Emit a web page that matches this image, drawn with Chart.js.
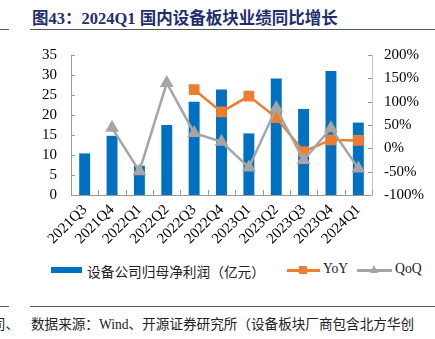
<!DOCTYPE html>
<html>
<head>
<meta charset="utf-8">
<script src="https://cdn.jsdelivr.net/npm/chart.js@4"></script>
<style>
  body { margin: 0; width: 435px; height: 339px; overflow: hidden; background: #fff; position: relative; }
  .abs { position: absolute; white-space: nowrap; }
  .title { left: 32px; top: 5px; font: bold 16.5px "Liberation Serif", "Noto Sans CJK SC", serif; color: #1f2e6e; }
  .rule { height: 1px; background: #555; }
  .note { font: 13.6px "Liberation Serif", "Noto Sans CJK SC", serif; color: #222; }
  .leg { font: 13.7px "Liberation Serif", "Noto Sans CJK SC", serif; color: #222; }
</style>
</head>
<body>
<div class="abs title">图43：2024Q1 国内设备板块业绩同比增长</div>
<div class="abs rule" style="left:0;top:29px;width:9px"></div>
<div class="abs rule" style="left:30px;top:29px;width:405px"></div>

<div class="abs" style="left:0;top:32px;width:435px;height:228px">
  <canvas id="chart" width="435" height="228"></canvas>
</div>

<!-- legend -->
<div class="abs" style="left:51px;top:267px;width:31px;height:6px;background:#0070C0"></div>
<div class="abs leg" style="left:87px;top:261px">设备公司归母净利润（亿元）</div>
<div class="abs" style="left:287px;top:269px;width:33px;height:2.5px;background:#ED7D31"></div>
<div class="abs" style="left:299px;top:266px;width:8px;height:8px;background:#ED7D31"></div>
<div class="abs leg" style="left:323px;top:261px">YoY</div>
<div class="abs" style="left:357px;top:269px;width:35px;height:2.5px;background:#A5A5A5"></div>
<div class="abs" style="left:370px;top:265px;width:0;height:0;border-left:4.5px solid transparent;border-right:4.5px solid transparent;border-bottom:8px solid #A5A5A5"></div>
<div class="abs leg" style="left:395px;top:261px">QoQ</div>

<!-- footer -->
<div class="abs rule" style="left:0;top:306px;width:9px"></div>
<div class="abs rule" style="left:30px;top:306px;width:405px"></div>
<div class="abs note" style="left:-8px;top:313px">司、</div>
<div class="abs note" style="left:31px;top:313px">数据来源：Wind、开源证券研究所（设备板块厂商包含北方华创</div>

<script>
const quarters = ['2021Q3', '2021Q4', '2022Q1', '2022Q2', '2022Q3', '2022Q4',
                  '2023Q1', '2023Q2', '2023Q3', '2023Q4', '2024Q1']
const netProfit = [10.4, 14.8, 7.3, 17.5, 23.3, 26.4, 15.4, 29.1, 21.5, 31.0, 18.1]
const yoy = [null, null, null, null, 126, 78, 112, 66, -7, 18, 17]
const qoq = [null, 44, -49, 140, 33, 14, -41, 86, -25, 43, -43]

const leftTicks = [0, 5, 10, 15, 20, 25, 30, 35]
const rightTicks = [-100, -50, 0, 50, 100, 150, 200]

const serif = '"Liberation Serif", "Times New Roman", serif'
const axisGray = '#999999'

// small tick marks that point into the plot, like the source
const innerTicks = {
    id: 'innerTicks',
    beforeDatasetsDraw(chart) {
        const {ctx, chartArea, scales} = chart
        const x = scales.x, y = scales.y, y1 = scales.y1
        ctx.save()
        ctx.strokeStyle = axisGray
        ctx.lineWidth = 1
        ctx.beginPath()
        y.ticks.forEach(t => {
            const py = Math.round(y.getPixelForValue(t.value)) + 0.5
            ctx.moveTo(chartArea.left, py); ctx.lineTo(chartArea.left + 4, py)
        })
        y1.ticks.forEach(t => {
            const py = Math.round(y1.getPixelForValue(t.value)) + 0.5
            ctx.moveTo(chartArea.right, py); ctx.lineTo(chartArea.right - 4, py)
        })
        const half = (x.getPixelForValue(1) - x.getPixelForValue(0)) / 2
        for (let i = 0; i <= quarters.length; i++) {
            const px = Math.round(x.getPixelForValue(i) - half) + 0.5
            ctx.moveTo(px, chartArea.bottom); ctx.lineTo(px, chartArea.bottom - 5)
        }
        ctx.stroke()
        ctx.restore()
    }
}

new Chart(document.getElementById('chart').getContext('2d'), {
    type: 'bar',
    data: {
        labels: quarters,
        datasets: [
            {
                type: 'line', label: 'QoQ', data: qoq, yAxisID: 'y1', order: 1,
                borderColor: '#A5A5A5', backgroundColor: '#A5A5A5', borderWidth: 2.5,
                pointStyle: 'triangle', pointRadius: 5.5, tension: 0
            },
            {
                type: 'line', label: 'YoY', data: yoy, yAxisID: 'y1', order: 2,
                borderColor: '#ED7D31', backgroundColor: '#ED7D31', borderWidth: 2.5,
                pointStyle: 'rect', pointRadius: 5.8, tension: 0
            },
            {
                label: '设备公司归母净利润（亿元）', data: netProfit, yAxisID: 'y', order: 3,
                backgroundColor: '#0070C0', barPercentage: 0.4, categoryPercentage: 1
            }
        ]
    },
    options: {
        responsive: false,
        animation: false,
        devicePixelRatio: 1,
        layout: {padding: {top: 0, left: 0, right: 0, bottom: 0}},
        plugins: {legend: {display: false}, tooltip: {enabled: false}},
        scales: {
            x: {
                offset: true,
                grid: {display: false, drawTicks: false},
                border: {display: true, color: axisGray, width: 1},
                ticks: {font: {family: serif, size: 15}, color: '#000', minRotation: 45, maxRotation: 45,
                        padding: 6, autoSkip: false},
                afterFit: s => { s.height = 65 }
            },
            y: {
                position: 'left', min: 0, max: 35,
                afterBuildTicks: s => { s.ticks = leftTicks.map(v => ({value: v})) },
                grid: {display: false, drawTicks: false},
                border: {display: true, color: axisGray, width: 1},
                ticks: {font: {family: serif, size: 15}, color: '#000', padding: 14, autoSkip: false},
                afterFit: s => { s.width = 71 }
            },
            y1: {
                position: 'right', min: -100, max: 200,
                afterBuildTicks: s => { s.ticks = rightTicks.map(v => ({value: v})) },
                grid: {display: false, drawTicks: false},
                border: {display: true, color: '#c8c8c8', width: 1},
                ticks: {font: {family: serif, size: 15}, color: '#000', padding: 12, autoSkip: false,
                        callback: v => v + '%'},
                afterFit: s => { s.width = 63 }
            }
        }
    },
    plugins: [innerTicks]
})
</script>
</body>
</html>
